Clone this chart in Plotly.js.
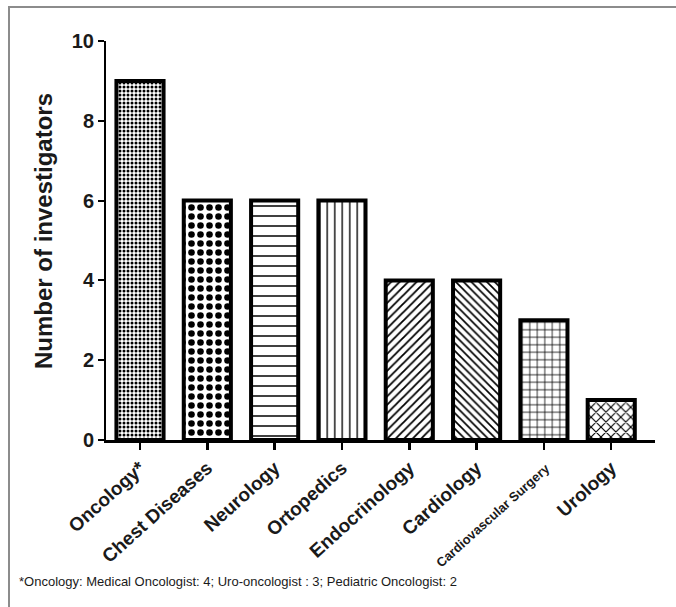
<!DOCTYPE html>
<html>
<head>
<meta charset="utf-8">
<script src="https://cdn.plot.ly/plotly-3.0.1.min.js"></script>
<style>
  html, body { margin: 0; padding: 0; background: #fff; }
  #chart { width: 676px; height: 607px; }
</style>
</head>
<body>
<div id="chart"></div>
<script>
// ---- data ----
const categories = ["Oncology*", "Chest Diseases", "Neurology", "Ortopedics", "Endocrinology", "Cardiology", "Cardiovascular Surgery", "Urology"];
const investigators = [9, 6, 6, 6, 4, 4, 3, 1];
const tickLabels = ["Oncology*", "Chest Diseases", "Neurology", "Ortopedics", "Endocrinology", "Cardiology", "<span style=\"font-size:13px\">Cardiovascular Surgery</span>", "Urology"];
const yTicks = [0, 2, 4, 6, 8, 10];
const footnote = "*Oncology: Medical Oncologist: 4; Uro-oncologist : 3; Pediatric Oncologist: 2";
const yTitle = "Number of investigators";

// ---- styling ----
const patternShapes = [".", ".", "-", "|", "/", "\\", "+", "x"];
const patternSizes = [4, 9, 10, 7.5, 6, 5.5, 7.5, 7];
const patternSolidity = [0.45, 0.42, 0.15, 0.18, 0.3, 0.3, 0.2, 0.3];

const W = 676, H = 607;
const M = {l: 106, r: 21, t: 41, b: 167};
const pw = W - M.l - M.r, ph = H - M.t - M.b;
const px = v => (v - M.l) / pw;           // pixel x -> paper
const py = v => (H - M.b - v) / ph;       // pixel y -> paper

const xIdx = categories.map((c, i) => i);

const trace = {
  type: "bar",
  x: xIdx,
  y: investigators,
  width: 0.7,
  marker: {
    color: "#ffffff",
    line: {color: "#000000", width: 4},
    pattern: {
      shape: patternShapes,
      size: patternSizes,
      solidity: patternSolidity,
      fgcolor: "#000000",
      bgcolor: "#ffffff",
      fillmode: "replace"
    }
  },
  hoverinfo: "skip"
};

const tickFont = {family: "Liberation Sans, Arial, sans-serif", size: 19, color: "#1a1a1a", weight: "bold"};

const layout = {
  width: W, height: H,
  margin: M,
  paper_bgcolor: "#ffffff",
  plot_bgcolor: "#ffffff",
  showlegend: false,
  xaxis: {
    tickmode: "array",
    tickvals: xIdx,
    ticktext: tickLabels,
    range: [-0.505, 7.65],
    tickangle: -42,
    ticks: "outside", ticklen: 7, tickwidth: 2.5, tickcolor: "#000",
    showline: true, linecolor: "#000", linewidth: 2.5,
    showgrid: false, zeroline: false,
    tickfont: tickFont,
    fixedrange: true
  },
  yaxis: {
    range: [0, 10],
    tickmode: "array",
    tickvals: yTicks,
    ticktext: yTicks.map(String),
    ticks: "outside", ticklen: 6, tickwidth: 2, tickcolor: "#000",
    showline: true, linecolor: "#000", linewidth: 2,
    showgrid: false, zeroline: false,
    tickfont: {family: "Liberation Sans, Arial, sans-serif", size: 20, color: "#1a1a1a", weight: "bold"},
    fixedrange: true
  },
  annotations: [
    {
      text: yTitle, textangle: -90,
      xref: "paper", yref: "paper",
      x: px(43), y: py(231), xanchor: "center", yanchor: "middle",
      showarrow: false,
      font: {family: "Liberation Sans, Arial, sans-serif", size: 24, color: "#1a1a1a", weight: "bold"}
    },
    {
      text: footnote,
      xref: "paper", yref: "paper",
      x: px(17), y: py(581), xanchor: "left", yanchor: "middle",
      showarrow: false,
      font: {family: "Liberation Sans, Arial, sans-serif", size: 13, color: "#1a1a1a"}
    }
  ],
  shapes: [
    {type: "line", xref: "paper", yref: "paper", x0: px(9), x1: px(9), y0: py(7), y1: py(H + 5), line: {color: "#8c8c8c", width: 2}},
    {type: "line", xref: "paper", yref: "paper", x0: px(8), x1: px(W + 5), y0: py(7), y1: py(7), line: {color: "#8c8c8c", width: 2}}
  ]
};

Plotly.newPlot("chart", [trace], layout, {staticPlot: true, displayModeBar: false});
</script>
</body>
</html>
